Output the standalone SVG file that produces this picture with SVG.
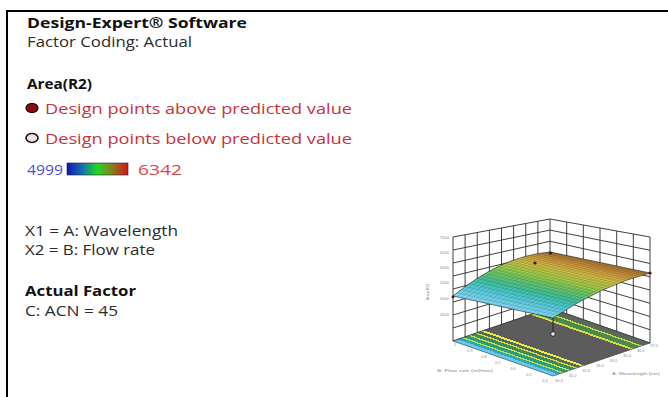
<svg xmlns="http://www.w3.org/2000/svg" width="668" height="397" viewBox="0 0 668 397">
<defs>
<linearGradient id="bar" x1="0" y1="0" x2="1" y2="0">
<stop offset="0" stop-color="#1414b4"/>
<stop offset="0.25" stop-color="#1470b0"/>
<stop offset="0.5" stop-color="#22d822"/>
<stop offset="0.75" stop-color="#8a7a20"/>
<stop offset="1" stop-color="#d41414"/>
</linearGradient>
<linearGradient id="surf" gradientUnits="userSpaceOnUse" x1="503" y1="307" x2="517.6" y2="243.5">
<stop offset="0" stop-color="#84d6f2"/>
<stop offset="0.2" stop-color="#4fc6d6"/>
<stop offset="0.33" stop-color="#3fbf9c"/>
<stop offset="0.5" stop-color="#70c65a"/>
<stop offset="0.62" stop-color="#abcb46"/>
<stop offset="0.76" stop-color="#d6bd40"/>
<stop offset="0.87" stop-color="#d89c3c"/>
<stop offset="1" stop-color="#b87428"/>
</linearGradient>
<linearGradient id="floorG" gradientUnits="userSpaceOnUse" x1="553" y1="376" x2="573.9" y2="316.3">
<stop offset="0" stop-color="#6cc8ea"/><stop offset="0.05" stop-color="#6cc8ea"/>
<stop offset="0.05" stop-color="#2fa6b4"/><stop offset="0.09" stop-color="#2fa6b4"/>
<stop offset="0.09" stop-color="#b8e050"/><stop offset="0.11" stop-color="#b8e050"/>
<stop offset="0.11" stop-color="#2e9c78"/><stop offset="0.16" stop-color="#2e9c78"/>
<stop offset="0.16" stop-color="#d4e44c"/><stop offset="0.18" stop-color="#d4e44c"/>
<stop offset="0.18" stop-color="#3a8c5c"/><stop offset="0.23" stop-color="#3a8c5c"/>
<stop offset="0.23" stop-color="#dada4a"/><stop offset="0.25" stop-color="#dada4a"/>
<stop offset="0.25" stop-color="#4e6c58"/><stop offset="0.29" stop-color="#4e6c58"/>
<stop offset="0.29" stop-color="#ecec46"/><stop offset="0.32" stop-color="#ecec46"/>
<stop offset="0.32" stop-color="#5c5c5c"/><stop offset="0.80" stop-color="#5c5c5c"/>
<stop offset="0.80" stop-color="#d8d848"/><stop offset="0.83" stop-color="#d8d848"/>
<stop offset="0.83" stop-color="#4a8a4a"/><stop offset="0.90" stop-color="#4a8a4a"/>
<stop offset="0.90" stop-color="#c8dc4a"/><stop offset="0.92" stop-color="#c8dc4a"/>
<stop offset="0.92" stop-color="#5a6a5a"/><stop offset="1" stop-color="#5a6a5a"/>
</linearGradient>
</defs>
<style>
.t{font-family:"Open Sans","Noto Sans","Liberation Sans",sans-serif;font-size:14.5px;fill:#2b2b2b}
.b{font-weight:bold;fill:#111}
.r{fill:#c8323c;font-size:15px}
.grid{stroke:#2a2a2a;stroke-width:0.9;fill:none}
.mesh{stroke:#1e3a3a;stroke-opacity:0.32;stroke-width:0.5;fill:none}
.tk{font-family:"Liberation Sans",Arial,sans-serif;font-size:4px;fill:#8a8a8a}
.dp{fill:#4a1010}
</style>
<rect width="668" height="397" fill="#ffffff"/>
<g id="frame" stroke="#000" stroke-width="2">
<line x1="6" y1="11" x2="668" y2="11"/>
<line x1="7" y1="10" x2="7" y2="397"/>
</g>
<g id="header">
<text class="t b" x="27" y="28" textLength="220" lengthAdjust="spacingAndGlyphs">Design-Expert® Software</text>
<text class="t" x="27" y="47" textLength="165" lengthAdjust="spacingAndGlyphs">Factor Coding: Actual</text>
</g>
<g id="legend">
<text class="t b" x="27" y="89" textLength="65" lengthAdjust="spacingAndGlyphs">Area(R2)</text>
<ellipse cx="32" cy="108" rx="6" ry="4.5" fill="#8a0c0c" stroke="#1a0000" stroke-width="1.2"/>
<text class="t r" x="45" y="114" textLength="307" lengthAdjust="spacingAndGlyphs">Design points above predicted value</text>
<ellipse cx="32" cy="138" rx="6" ry="4.5" fill="#f6e2e2" stroke="#1a1a1a" stroke-width="1.7"/>
<text class="t r" x="45" y="144" textLength="307" lengthAdjust="spacingAndGlyphs">Design points below predicted value</text>
<text class="t" x="27" y="174.5" textLength="36" lengthAdjust="spacingAndGlyphs" style="fill:#4d4dd6">4999</text>
<rect x="67" y="163" width="61" height="12" fill="url(#bar)" stroke="#20203a" stroke-width="0.6"/>
<text class="t" x="138" y="174.5" textLength="44" lengthAdjust="spacingAndGlyphs" style="fill:#d84848">6342</text>
</g>
<g id="factors">
<text class="t" x="25" y="236" textLength="153" lengthAdjust="spacingAndGlyphs">X1 = A: Wavelength</text>
<text class="t" x="25" y="255" textLength="130" lengthAdjust="spacingAndGlyphs">X2 = B: Flow rate</text>
<text class="t b" x="25" y="296" textLength="111" lengthAdjust="spacingAndGlyphs">Actual Factor</text>
<text class="t" x="25" y="316" textLength="93" lengthAdjust="spacingAndGlyphs">C: ACN = 45</text>
</g>
<g id="plot">
<g id="walls" class="grid">
<path d="M453 341V237M465.1 336.9V234.75M477.25 332.75V232.5M489.4 328.6V230.25M501.5 324.5V228M513.6 320.4V225.75M525.75 316.25V223.5M537.9 312.1V221.25M550 308V219"/>
<path d="M453 341L550 308M453 328L550 296.9M453 315L550 285.75M453 302L550 274.6M453 289L550 263.5M453 276L550 252.4M453 263L550 241.25M453 250L550 230.1M453 237L550 219"/>
<path d="M566.7 313.8V222M583.3 319.7V225M600 325.5V228M616.7 331.3V231M633.3 337.2V234M650 343V237"/>
<path d="M550 308L650 343M550 296.9L650 329.75M550 285.75L650 316.5M550 274.6L650 303.25M550 263.5L650 290M550 252.4L650 276.75M550 241.25L650 263.5M550 230.1L650 250.25M550 219L650 237"/>
</g>
<g id="floor">
<polygon points="453,341 553,376 650,343 550,308" fill="url(#floorG)" stroke="#333" stroke-width="0.6"/>
</g>
<g id="surface">
<path d="M553 318Q601.5 285.5 650 273L550 252Q501.5 256 453 296Z" fill="url(#surf)" stroke="#2a3a30" stroke-width="0.7"/>
<path class="mesh" d="M561.1 312.7L461.1 289.6M569.2 307.7L469.2 283.7M577.25 303L477.25 278.3M585.3 298.6L485.3 273.3M593.4 294.4L493.4 268.9M601.5 290.5L501.5 265M609.6 286.9L509.6 261.6M617.7 283.6L517.7 258.7M625.75 280.5L525.75 256.25M633.8 277.7L533.8 254.3M641.9 275.2L541.9 252.9"/>
<path class="mesh" d="M557.04 315.33L457.04 292.73M565.13 310.19L465.13 286.56M573.2 305.33L473.2 280.9M581.3 300.74L481.3 275.73M589.4 296.44L489.4 271.06M597.45 292.41L497.45 266.9M605.55 288.66L505.55 263.23M613.6 285.19L513.6 260.06M621.7 281.99L521.7 257.4M629.8 279.07L529.8 255.23M637.9 276.44L537.9 253.56M645.96 274.08L545.96 252.4"/>
<path class="mesh" d="M544.7 316.2Q593.2 283 641.7 271.25M536.3 314.3Q584.8 280.6 633.3 269.5M528 312.5Q576.5 278.1 625 267.75M519.7 310.7Q568.2 275.7 616.7 266M511.3 308.8Q559.8 273.2 608.3 264.25M503 307Q551.5 270.75 600 262.5M494.7 305.2Q543.2 268.3 591.7 260.75M486.3 303.3Q534.8 265.8 583.3 259M478 301.5Q526.5 263.4 575 257.25M469.7 299.7Q518.2 260.9 566.7 255.5M461.3 297.8Q509.8 258.5 558.3 253.75"/>
<path class="mesh" d="M548.83 317.08Q597.33 284.27 645.83 272.13M540.5 315.25Q589 281.81 637.5 270.38M532.17 313.42Q580.67 279.35 629.17 268.63M523.83 311.58Q572.33 276.9 620.83 266.88M515.5 309.75Q564 274.44 612.5 265.13M507.17 307.92Q555.67 271.98 604.17 263.38M498.83 306.08Q547.33 269.52 595.83 261.63M490.5 304.25Q539 267.06 587.5 259.88M482.17 302.42Q530.67 264.6 579.17 258.13M473.83 300.58Q522.33 262.15 570.83 256.38M465.5 298.75Q514 259.69 562.5 254.63M457.17 296.92Q505.67 257.23 554.17 252.88"/>
</g>
<g id="points">
<line x1="553" y1="318" x2="553" y2="332" stroke="#222" stroke-width="1"/>
<circle cx="553" cy="334" r="2.3" fill="#f4e4e4" stroke="#222" stroke-width="0.9"/>
<circle class="dp" cx="535" cy="263" r="1.6"/>
<circle class="dp" cx="550.5" cy="253" r="1.6"/>
<circle class="dp" cx="650" cy="273" r="1.6"/>
<circle class="dp" cx="453" cy="297" r="1.4"/>
</g>
<g id="axes" class="tk">
<text x="449" y="239" text-anchor="end">7000</text>
<text x="449" y="254" text-anchor="end">6500</text>
<text x="449" y="269" text-anchor="end">6000</text>
<text x="449" y="284" text-anchor="end">5500</text>
<text x="449" y="300" text-anchor="end">5000</text>
<text x="449" y="316" text-anchor="end">4500</text>
<text transform="translate(429,292) rotate(-90)" text-anchor="middle">Area(R2)</text>
<text x="455" y="346" text-anchor="middle">1</text>
<text x="470" y="352" text-anchor="middle">0.9</text>
<text x="484" y="358" text-anchor="middle">0.8</text>
<text x="498" y="364" text-anchor="middle">0.7</text>
<text x="513" y="370" text-anchor="middle">0.6</text>
<text x="529" y="376" text-anchor="middle">0.5</text>
<text x="545" y="382" text-anchor="middle">0.4</text>
<text x="559" y="382" text-anchor="middle">30.0</text>
<text x="572.6" y="377" text-anchor="middle">31.0</text>
<text x="586.2" y="372" text-anchor="middle">32.0</text>
<text x="599.8" y="367" text-anchor="middle">33.0</text>
<text x="613.4" y="362" text-anchor="middle">34.0</text>
<text x="627" y="357" text-anchor="middle">35.0</text>
<text x="640.6" y="352" text-anchor="middle">36.0</text>
<text x="654.2" y="347" text-anchor="middle">37.0</text>
<text x="437" y="372" textLength="56" lengthAdjust="spacingAndGlyphs">B: Flow rate (ml/min)</text>
<text x="612" y="375" textLength="48" lengthAdjust="spacingAndGlyphs">A: Wavelength (nm)</text>
</g>
</g>
</svg>
